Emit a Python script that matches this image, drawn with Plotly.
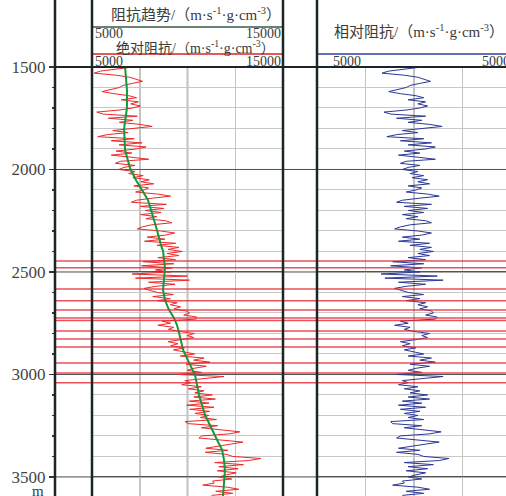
import numpy as np
import plotly.graph_objects as go

W, H = 506, 496


def px(x):
    return x / W


def py(y):
    return 1 - y / H


# ---------------- data ----------------
DEPTH_TOP = 1500
DEPTH_BOTTOM = 3593
DEPTH = np.arange(1500, 3600, 10)  # log sampling, 10 m

# absolute impedance (red), one row per 100 m
ABS_IMP = [
    7130, 6140, 5450, 5110, 6270, 6980, 7290, 7650, 7110, 6620,
    6430, 5930, 5530, 6130, 6930, 7330, 6530, 7430, 7030, 7530,
    7130, 6420, 5250, 5590, 7370, 5860, 7140, 6430, 7510, 8150,
    6980, 6090, 6890, 5800, 5300, 7210, 6010, 7620, 6420, 7830,
    7330, 6260, 7090, 6010, 7040, 7970, 6490, 6220, 7250, 6670,
    6400, 7260, 6920, 7680, 7140, 8000, 7560, 8230, 7190, 7960,
    7720, 7280, 8440, 9110, 8170, 7330, 7060, 8890, 7530, 8760,
    7790, 8620, 7550, 8390, 7820, 8850, 9180, 8110, 7640, 7370,
    8600, 9330, 8860, 7890, 8820, 7750, 9380, 8410, 9550, 8980,
    9720, 8930, 9540, 8450, 9370, 7680, 9290, 7600, 9210, 8320,
    9110, 7100, 9990, 7280, 10100, 7960, 9350, 8340, 7730, 8020,
    8440, 9260, 8180, 9100, 8420, 9460, 9100, 9640, 9290, 9930,
    10110, 9800, 10490, 10430, 8670, 9110, 8450, 9280, 9000, 9530,
    10360, 9990, 10330, 9760, 8980, 9500, 9120, 9850, 9270, 9820,
    10370, 9620, 10870, 10320, 11180, 9930, 10980, 10340, 9990, 10740,
    9490, 11910, 10930, 9860, 10180, 9700, 10720, 10040, 10860, 10380,
    11300, 10330, 11460, 10100, 11130, 9960, 11390, 10120, 11160, 10390,
    11120, 10670, 11520, 9880, 10030, 11580, 10730, 11880, 12740, 12190,
    10740, 10600, 11650, 12900, 12250, 11510, 10960, 12110, 10930, 12050,
    12370, 13850, 13210, 11420, 12930, 11640, 12650, 11560, 12550, 12040,
    11630, 12320, 11310, 11400, 10800, 12090, 12680, 11480, 12370, 11260,
]

# relative impedance (blue)
REL_IMP = [
    400, -600, -1300, -1650, -500, 200, 500, 850, 300, -200,
    -400, -900, -1300, -700, 100, 500, -300, 600, 200, 700,
    300, -400, -1550, -1200, 600, -900, 400, -300, 800, 1450,
    300, -600, 200, -900, -1400, 500, -700, 900, -300, 1100,
    600, -500, 300, -800, 200, 1100, -400, -700, 300, -300,
    -600, 200, -200, 500, -100, 700, 200, 800, -300, 400,
    100, -400, 700, 1300, 300, -600, -900, 900, -500, 700,
    -300, 500, -600, 200, -400, 600, 900, -200, -700, -1000,
    200, 900, 400, -600, 300, -800, 800, -200, 900, 300,
    1000, 200, 800, -300, 600, -1100, 500, -1200, 400, -500,
    300, -1700, 1200, -1500, 1500, -800, 600, -400, -1000, -700,
    -300, 500, -600, 300, -400, 600, 200, 700, 300, 900,
    1000, 600, 1200, 1100, -700, -300, -1000, -200, -500, 0,
    800, 400, 700, 100, -700, -200, -600, 100, -500, 0,
    500, -300, 900, 300, 1100, -200, 800, 100, -300, 400,
    -900, 1500, 500, -600, -300, -800, 200, -500, 300, -200,
    700, -300, 800, -600, 400, -800, 600, -700, 300, -500,
    200, -300, 500, -1200, -1100, 400, -500, 600, 1400, 800,
    -700, -900, 100, 1300, 600, -200, -800, 300, -900, 200,
    500, 1800, 1300, -500, 1000, -300, 700, -400, 600, 100,
    -300, 400, -600, -500, -1100, 200, 800, -400, 500, -600,
]

# impedance trend (green)
TREND_DEPTH = [1500, 1612, 1700, 1802, 1905, 1993, 2051, 2100, 2149, 2198,
               2246, 2295, 2368, 2398, 2480, 2588, 2637, 2685, 2724, 2759,
               2798, 2832, 2880, 2920, 2954, 3002, 3051, 3100, 3198, 3271,
               3320, 3368, 3417, 3466, 3515, 3593]
TREND_VALUE = [6730, 6830, 6830, 6680, 6730, 6990, 7300, 7620, 7930, 8090,
               8250, 8400, 8610, 8720, 8820, 8720, 8820, 9030, 9290, 9450,
               9560, 9660, 9770, 9970, 10130, 10390, 10500, 10600, 10920, 11280,
               11550, 11810, 11910, 11960, 11910, 11860]

# marked horizons (red lines)
MARK_DEPTHS = [2446, 2480, 2583, 2641, 2685, 2724, 2737, 2788, 2827, 2866,
               2944, 2993, 3041]

DEPTH_TICKS = [1500, 2000, 2500, 3000, 3500]
DEPTH_TICK_TEXT = ["1500", "2000", "2500", "3000", "3500"]

TITLE_TREND = "阻抗趋势/（m·s<sup>-1</sup>·g·cm<sup>-3</sup>）"
TITLE_ABS = "绝对阻抗/（m·s<sup>-1</sup>·g·cm<sup>-3</sup>）"
TITLE_REL = "相对阻抗/（m·s<sup>-1</sup>·g·cm<sup>-3</sup>）"
ABS_MIN_LABEL, ABS_MAX_LABEL = "5000", "15000"
REL_MIN_LABEL, REL_MAX_LABEL = "5000", "5000"

# ---------------- figure ----------------
SERIF = "Liberation Serif"
CJK = "Liberation Serif, Noto Sans CJK SC"
TXT = "#3a3a3a"

fig = go.Figure()
fig.add_trace(go.Scatter(x=ABS_IMP, y=DEPTH, xaxis="x", yaxis="y", mode="lines",
                         line=dict(color="#ee2828", width=1), showlegend=False))
fig.add_trace(go.Scatter(x=TREND_VALUE, y=TREND_DEPTH, xaxis="x", yaxis="y", mode="lines",
                         line=dict(color="#13993c", width=2), showlegend=False))
fig.add_trace(go.Scatter(x=REL_IMP, y=DEPTH, xaxis="x2", yaxis="y", mode="lines",
                         line=dict(color="#2b3894", width=1), showlegend=False))

ax_common = dict(showticklabels=False, ticks="", zeroline=False, showline=False,
                 showgrid=True, gridcolor="#c4c4c4", gridwidth=1.5, fixedrange=True,
                 automargin=False)

rel_right = -5000 + (W - 317) / 194 * 10000

fig.update_layout(
    template="none",
    width=W, height=H, margin=dict(l=0, r=0, t=0, b=0, pad=0, autoexpand=False),
    paper_bgcolor="white", plot_bgcolor="white", showlegend=False,
    xaxis=dict(domain=[px(92), px(283)], range=[5000, 15000], tick0=5000, dtick=2500,
               anchor="y", **ax_common),
    xaxis2=dict(domain=[px(317), 1], range=[-5000, rel_right], tick0=-5000, dtick=2500,
                anchor="y", **ax_common),
    yaxis=dict(domain=[0, py(67)], range=[DEPTH_BOTTOM, DEPTH_TOP], anchor="free",
               position=px(55), tickmode="array", tickvals=DEPTH_TICKS,
               ticktext=DEPTH_TICK_TEXT, ticks="outside", ticklen=6, tickwidth=1.5,
               tickcolor="#333", showgrid=True, gridcolor="#555", gridwidth=1,
               minor=dict(tickmode="linear", tick0=1500, dtick=100, ticks="outside",
                          ticklen=3, tickwidth=1.2, tickcolor="#333", showgrid=True,
                          gridcolor="#c8c8c8", gridwidth=1),
               tickfont=dict(family=SERIF, size=17, color="#444444"),
               zeroline=False, showline=False, fixedrange=True, automargin=False),
)

shapes = []
# centre lines of each track
shapes.append(dict(type="line", xref="x", yref="paper", x0=10000, x1=10000, y0=0, y1=py(67),
                   line=dict(color="#7a7a7a", width=1.5), layer="below"))
shapes.append(dict(type="line", xref="x2", yref="paper", x0=0, x1=0, y0=0, y1=py(67),
                   line=dict(color="#7a7a7a", width=1.5), layer="below"))
# 500 m lines across
for d in DEPTH_TICKS[1:]:
    shapes.append(dict(type="line", xref="paper", yref="y", x0=px(55), x1=1, y0=d, y1=d,
                       line=dict(color="#4a4a4a", width=1), layer="below"))
# marked horizons
for d in MARK_DEPTHS:
    shapes.append(dict(type="line", xref="paper", yref="y", x0=px(55), x1=1, y0=d, y1=d,
                       line=dict(color="rgba(232,36,48,0.8)", width=1.5), layer="above"))
# header lines
shapes.append(dict(type="line", xref="paper", yref="paper", x0=px(92), x1=px(283),
                   y0=py(27), y1=py(27), line=dict(color="#3a5a46", width=1.5)))
shapes.append(dict(type="line", xref="paper", yref="paper", x0=px(92), x1=px(283),
                   y0=py(54), y1=py(54), line=dict(color="#e02020", width=1.5)))
shapes.append(dict(type="line", xref="paper", yref="paper", x0=px(317), x1=1,
                   y0=py(54), y1=py(54), line=dict(color="#3040a0", width=1.5)))
# top border of plot area
shapes.append(dict(type="line", xref="paper", yref="paper", x0=px(55), x1=1,
                   y0=py(67), y1=py(67), line=dict(color="#1d2626", width=2)))
# vertical borders
for xb in [55, 92, 283, 317]:
    shapes.append(dict(type="line", xref="paper", yref="paper", x0=px(xb), x1=px(xb),
                       y0=0, y1=1, line=dict(color="#1d2626", width=2.5)))
fig.update_layout(shapes=shapes)

ann = []


def add_text(text, x, y, anchor="center", size=15, family=SERIF):
    ann.append(dict(text=text, x=px(x), y=py(y), xref="paper", yref="paper",
                    xanchor=anchor, yanchor="middle", showarrow=False,
                    font=dict(family=family, size=size, color=TXT)))


add_text(TITLE_TREND, 196, 14, size=15, family=CJK)
add_text(ABS_MIN_LABEL, 93, 33, "left", size=14)
add_text(ABS_MAX_LABEL, 283, 33, "right", size=14)
add_text(TITLE_ABS, 195, 47, size=14, family=CJK)
add_text(ABS_MIN_LABEL, 93, 61, "left", size=14)
add_text(ABS_MAX_LABEL, 283, 61, "right", size=14)
add_text(TITLE_REL, 419, 31, size=15, family=CJK)
add_text(REL_MIN_LABEL, 331, 61, "left", size=14)
add_text(REL_MAX_LABEL, 512, 61, "right", size=14)
add_text("m", 38, 491, size=15)
fig.update_layout(annotations=ann)

fig.write_html(
    "out.html",
    config={"displayModeBar": False, "staticPlot": True},
    post_script=(
        "document.documentElement.style.margin='0';"
        "document.body.style.margin='0';document.body.style.padding='0';"
        "document.body.style.overflow='hidden';"
    ),
)
